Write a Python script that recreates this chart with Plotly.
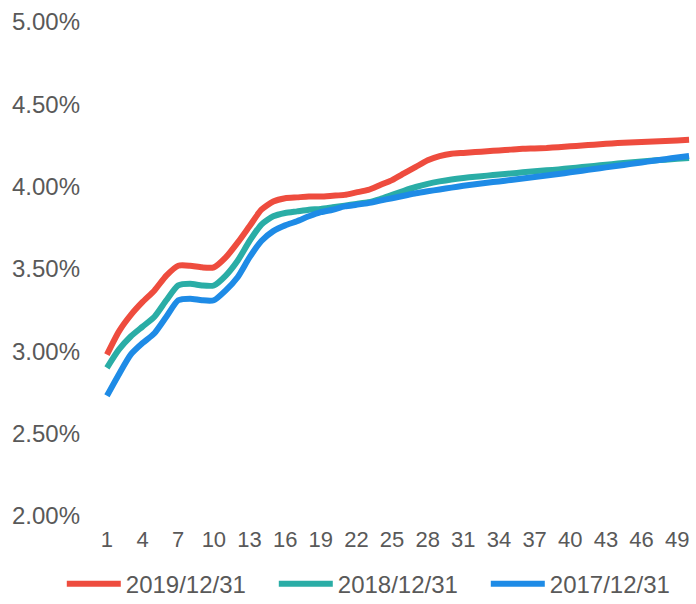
import plotly.graph_objects as go

# Term (years) and yield curves in percent
terms = list(range(1, 51))

yield_2019 = [2.98, 3.12, 3.22, 3.30, 3.37, 3.46, 3.52, 3.52, 3.51, 3.51,
              3.57, 3.66, 3.76, 3.86, 3.91, 3.93, 3.935, 3.94, 3.94, 3.945,
              3.95, 3.965, 3.98, 4.01, 4.04, 4.08, 4.12, 4.16, 4.185, 4.20,
              4.205, 4.21, 4.215, 4.22, 4.225, 4.23, 4.232, 4.235, 4.24, 4.245,
              4.25, 4.255, 4.26, 4.265, 4.268, 4.271, 4.275, 4.278, 4.281, 4.285]

yield_2018 = [2.90, 3.01, 3.09, 3.15, 3.21, 3.31, 3.40, 3.41, 3.40, 3.40,
              3.46, 3.55, 3.67, 3.77, 3.82, 3.84, 3.85, 3.86, 3.865, 3.875,
              3.885, 3.895, 3.905, 3.925, 3.95, 3.975, 3.998, 4.017, 4.032, 4.044,
              4.053, 4.06, 4.067, 4.074, 4.08, 4.087, 4.093, 4.099, 4.105, 4.112,
              4.119, 4.126, 4.133, 4.14, 4.147, 4.153, 4.159, 4.164, 4.169, 4.174]

yield_2017 = [2.73, 2.86, 2.98, 3.05, 3.11, 3.21, 3.31, 3.32, 3.31, 3.31,
              3.37, 3.45, 3.57, 3.67, 3.73, 3.765, 3.79, 3.82, 3.845, 3.86,
              3.88, 3.89, 3.90, 3.915, 3.93, 3.945, 3.96, 3.972, 3.983, 3.994,
              4.005, 4.015, 4.024, 4.032, 4.041, 4.05, 4.059, 4.068, 4.077, 4.087,
              4.097, 4.107, 4.117, 4.127, 4.137, 4.147, 4.157, 4.167, 4.177, 4.186]

series_names = ["2019/12/31", "2018/12/31", "2017/12/31"]
series_colors = ["#EE4C3E", "#2AADA6", "#1E8BE6"]
series_values = [yield_2019, yield_2018, yield_2017]

x_tick_vals = list(range(1, 51, 3))
y_tick_vals = [2.0, 2.5, 3.0, 3.5, 4.0, 4.5, 5.0]

FONT = "Liberation Sans, Arial, sans-serif"
TEXT_COLOR = "#595959"

fig = go.Figure()
for name, color, vals in zip(series_names, series_colors, series_values):
    fig.add_trace(go.Scatter(
        x=terms, y=vals, name=name, mode="lines",
        line=dict(color=color, width=6, shape="spline", smoothing=0.6),
    ))

fig.update_layout(
    width=696, height=604,
    margin=dict(l=101, r=1, t=22, b=88, autoexpand=False),
    paper_bgcolor="white", plot_bgcolor="white",
    font=dict(family=FONT, size=24, color=TEXT_COLOR),
    showlegend=True,
    legend=dict(
        orientation="h", x=-0.066, xanchor="left", y=-0.138, yanchor="middle",
        entrywidth=143, entrywidthmode="pixels", itemwidth=54,
        font=dict(family=FONT, size=24, color=TEXT_COLOR),
        bgcolor="rgba(0,0,0,0)",
    ),
    xaxis=dict(
        range=[0.5, 50.5], tickmode="array", tickvals=x_tick_vals,
        ticktext=[str(v) for v in x_tick_vals],
        showgrid=False, zeroline=False, showline=False, ticks="",
        tickfont=dict(size=22), ticklabelstandoff=8,
    ),
    yaxis=dict(
        range=[2.0, 5.0], tickmode="array", tickvals=y_tick_vals,
        ticktext=[f"{v:.2f}%" for v in y_tick_vals],
        showgrid=False, zeroline=False, showline=False, ticks="",
        tickfont=dict(size=24), ticklabelstandoff=20,
    ),
)

fig.write_html("out.html")
